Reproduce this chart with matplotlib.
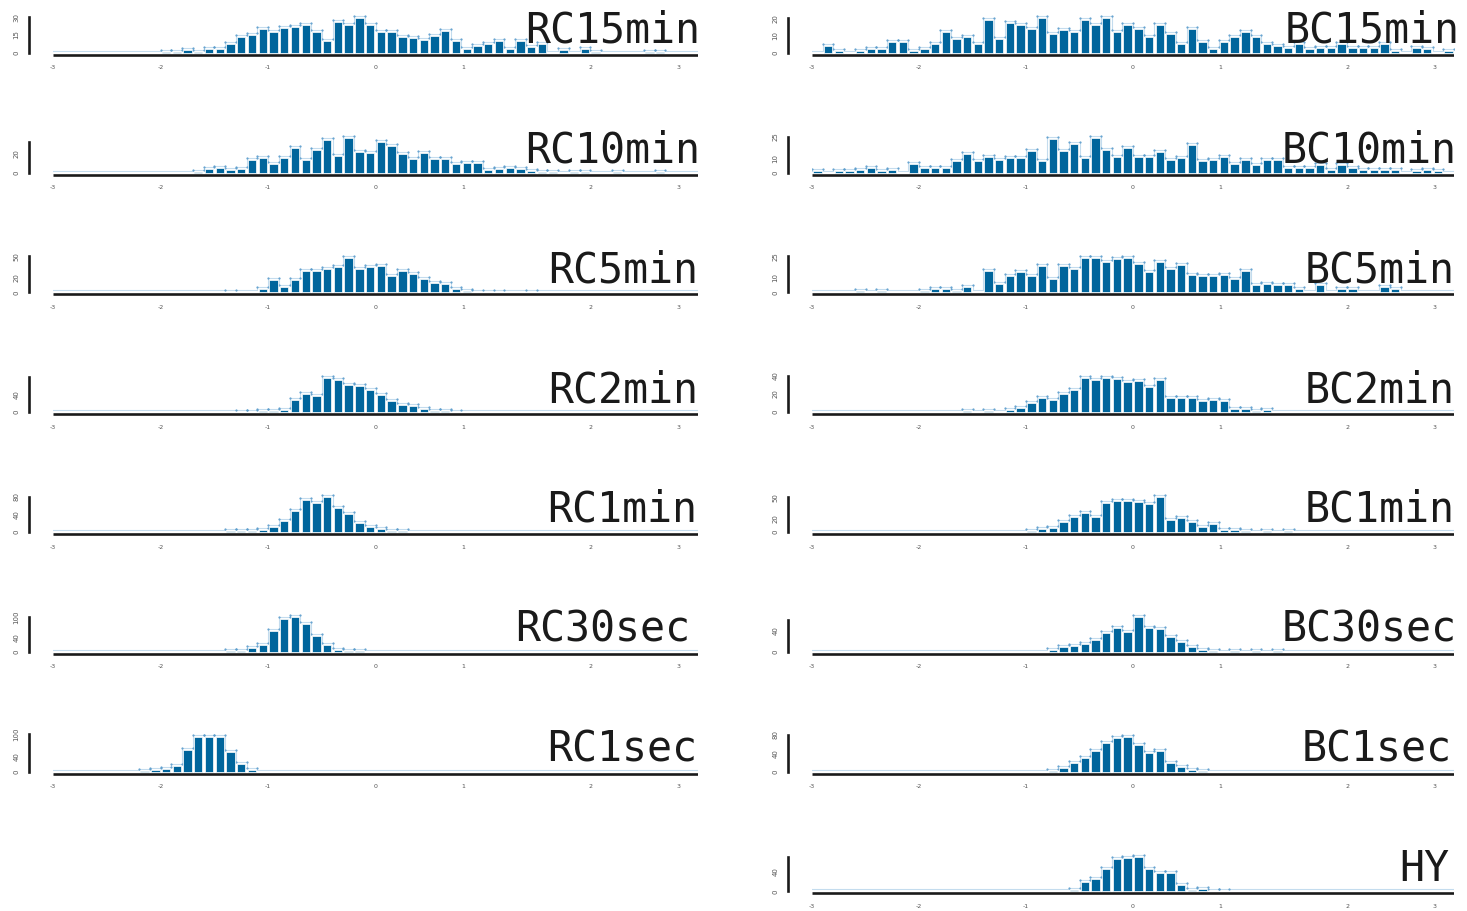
import matplotlib.pyplot as plt
import matplotlib.transforms as mtransforms
import numpy as np

# histogram bins: -3 .. 3, width 0.1
edges = np.round(np.linspace(-3, 3, 61), 2)

def expand(d):
    c = np.zeros(60)
    for k, v in d.items():
        c[k] = v
    return c

rc15 = [0]*10 + [1, 1, 2, 1, 3, 3, 7, 13, 15, 20, 17, 21, 22, 23, 17, 10, 26, 23, 29, 23,
                 17, 17, 13, 12, 11, 14, 18, 10, 3, 6, 7, 10, 3, 10, 5, 7, 0, 2, 0, 3,
                 1, 0, 0, 0, 0, 1, 1, 0, 0, 0]
bc15 = [0, 4, 1, 0, 1, 2, 2, 6, 6, 1, 2, 5, 12, 8, 9, 5, 19, 8, 17, 16,
        14, 20, 11, 13, 12, 19, 16, 20, 12, 16, 14, 9, 16, 11, 5, 14, 6, 2, 6, 9,
        12, 9, 5, 4, 3, 5, 2, 3, 3, 5, 3, 3, 3, 5, 1, 0, 3, 2, 0, 1]
rc10 = [0]*13 + [1, 4, 5, 3, 4, 13, 15, 9, 15, 26, 13, 23, 34, 17, 36, 21, 20, 32, 28,
                 19, 14, 20, 14, 14, 9, 10, 10, 3, 4, 5, 4, 2, 1, 1, 0, 1, 1, 0, 0,
                 1, 0, 0, 0, 1, 0, 0, 0]
bc10 = [1, 0, 1, 1, 2, 3, 1, 2, 0, 6, 3, 3, 3, 8, 13, 8, 11, 9, 10, 10,
        15, 8, 23, 15, 20, 10, 24, 16, 11, 17, 11, 11, 14, 9, 10, 19, 8, 9, 11, 6,
        9, 5, 9, 9, 3, 3, 3, 5, 2, 5, 3, 2, 2, 2, 2, 0, 1, 2, 1, 0]
rc5 = expand({16: 1, 19: 4, 20: 17, 21: 8, 22: 17, 23: 30, 24: 29, 25: 33, 26: 35, 27: 48,
              28: 33, 29: 35, 30: 36, 31: 23, 32: 30, 33: 26, 34: 19, 35: 13, 36: 11,
              37: 4, 38: 2, 39: 1, 41: 1, 44: 1})
bc5 = expand({4: 1, 6: 1, 10: 1, 11: 2, 12: 2, 13: 1, 14: 4, 16: 15, 17: 6, 18: 11, 19: 14,
              20: 11, 21: 18, 22: 9, 23: 18, 24: 16, 25: 24, 26: 24, 27: 21, 28: 23, 29: 24,
              30: 20, 31: 14, 32: 21, 33: 16, 34: 19, 35: 12, 36: 11, 37: 11, 38: 12,
              39: 9, 40: 15, 41: 5, 42: 6, 43: 5, 44: 5, 45: 2, 47: 5, 49: 2, 50: 2,
              53: 4, 54: 2})
rc2 = expand({17: 1, 18: 1, 19: 2, 20: 2, 21: 4, 22: 27, 23: 42, 24: 36, 25: 78, 26: 72,
              27: 61, 28: 59, 29: 50, 30: 38, 31: 25, 32: 17, 33: 13, 34: 6, 35: 2,
              36: 2, 37: 1})
bc2 = expand({14: 1, 16: 1, 18: 2, 19: 4, 20: 10, 21: 16, 22: 13, 23: 20, 24: 24, 25: 38,
              26: 35, 27: 38, 28: 37, 29: 33, 30: 34, 31: 28, 32: 35, 33: 15, 34: 16,
              35: 16, 36: 12, 37: 13, 38: 12, 39: 3, 40: 3, 41: 1, 42: 2})
rc1 = expand({16: 1, 17: 1, 18: 3, 19: 5, 20: 12, 21: 25, 22: 48, 23: 72, 24: 66, 25: 78,
              26: 55, 27: 40, 28: 20, 29: 12, 30: 6, 31: 3, 32: 1})
bc1 = expand({20: 2, 21: 4, 22: 5, 23: 14, 24: 22, 25: 28, 26: 22, 27: 42, 28: 45, 29: 45,
              30: 44, 31: 40, 32: 50, 33: 17, 34: 20, 35: 15, 36: 7, 37: 12, 38: 3,
              39: 3, 40: 1, 42: 1, 44: 1})
rc30s = expand({16: 1, 17: 3, 18: 10, 19: 18, 20: 60, 21: 95, 22: 100, 23: 80, 24: 45,
                25: 20, 26: 5, 27: 2, 28: 1})
bc30s = expand({22: 3, 23: 8, 24: 10, 25: 15, 26: 22, 27: 35, 28: 45, 29: 38, 30: 65,
                31: 45, 32: 42, 33: 28, 34: 18, 35: 8, 36: 4, 37: 1, 39: 1, 41: 1, 43: 1})
rc1s = expand({8: 1, 9: 3, 10: 6, 11: 16, 12: 58, 13: 92, 14: 92, 15: 92, 16: 52, 17: 20,
               18: 3})
bc1s = expand({22: 2, 23: 8, 24: 18, 25: 30, 26: 45, 27: 62, 28: 72, 29: 75, 30: 58,
               31: 40, 32: 45, 33: 18, 34: 10, 35: 3, 36: 1})
hy = expand({24: 3, 25: 18, 26: 25, 27: 45, 28: 65, 29: 68, 30: 70, 31: 45, 32: 38,
             33: 38, 34: 12, 35: 2, 36: 4, 37: 1, 38: 1})

# (label, counts, column, row, y ticks, y tick labels, label right edge px)
panels = [
    ("RC15min", rc15, 0, 0, [0, 15, 30], ["0", "15", "30"], 700),
    ("RC10min", rc10, 0, 1, [0, 20, 32], ["0", "20", ""], 700),
    ("RC5min", rc5, 0, 2, [0, 20, 50], ["0", "20", "50"], 698),
    ("RC2min", rc2, 0, 3, [0, 40, 80], ["0", "40", ""], 698),
    ("RC1min", rc1, 0, 4, [0, 40, 80], ["0", "40", "80"], 697),
    ("RC30sec", rc30s, 0, 5, [0, 40, 100], ["0", "40", "100"], 690),
    ("RC1sec", rc1s, 0, 6, [0, 40, 100], ["0", "40", "100"], 697),
    ("BC15min", bc15, 1, 0, [0, 10, 20], ["0", "10", "20"], 1460),
    ("BC10min", bc10, 1, 1, [0, 10, 25], ["0", "10", "25"], 1457),
    ("BC5min", bc5, 1, 2, [0, 10, 25], ["0", "10", "25"], 1455),
    ("BC2min", bc2, 1, 3, [0, 20, 40], ["0", "20", "40"], 1455),
    ("BC1min", bc1, 1, 4, [0, 20, 50], ["0", "20", "50"], 1455),
    ("BC30sec", bc30s, 1, 5, [0, 40, 60], ["0", "40", ""], 1457),
    ("BC1sec", bc1s, 1, 6, [0, 40, 80], ["0", "40", "80"], 1452),
    ("HY", hy, 1, 7, [0, 40, 70], ["0", "40", ""], 1449),
]

xtick_pos = [-3, -2, -1, 0, 0.82, 2, 2.82]
xtick_lab = ["-3", "-2", "-1", "0", "1", "2", "3"]

W, H = 1467, 911
fig = plt.figure(figsize=(W / 100, H / 100), dpi=100)

col_x = [(53.3, 697.7), (812.0, 1454.0)]
bar_color = "#00659c"
centers = edges[:-1] + 0.05

for name, counts, col, row, yt, ytl, lab_x in panels:
    counts = np.asarray(counts, dtype=float)
    zero = 52.7 + 119.8 * row          # pixel row of count 0
    ppc = 34.5 / counts.max()          # pixels per count
    x0, x1 = col_x[col]
    ax = fig.add_axes([x0 / W, 1 - (zero + 5) / H, (x1 - x0) / W, 47 / H])
    ax.set_xlim(-3, 3)
    ax.set_ylim(-5 / ppc, 42 / ppc)

    # light step outline, a little above the bars
    up = mtransforms.offset_copy(ax.transData, fig=fig, x=0, y=2.0, units="dots")
    sx = np.repeat(edges, 2)
    sy = np.concatenate([[0], np.repeat(counts, 2), [0]])
    ax.plot(sx, sy, color="#c4dcee", lw=0.8, transform=up, zorder=1)
    nz = counts > 0
    ax.plot(np.concatenate([edges[:-1][nz], edges[1:][nz]]),
            np.concatenate([counts[nz], counts[nz]]),
            ls="none", marker=".", ms=1.1, color="#5a9ccc", transform=up, zorder=1)

    ax.bar(centers[nz], counts[nz], width=0.078, color=bar_color,
           edgecolor="white", linewidth=0.5, zorder=2)

    ax.plot([-3, 3], [-2 / ppc, -2 / ppc], color="#1a1a1a", lw=1.9,
            solid_capstyle="butt", zorder=3)

    for s in ["top", "right", "bottom"]:
        ax.spines[s].set_visible(False)
    ax.spines["left"].set_position(("outward", 17.3))
    ax.spines["left"].set_bounds(0, yt[-1])
    ax.spines["left"].set_linewidth(1.9)
    ax.spines["left"].set_color("#1a1a1a")
    ax.set_yticks(yt, ytl)
    ax.tick_params(axis="y", length=0, pad=7, labelsize=5, labelrotation=90,
                   labelcolor="#555555")
    ax.set_xticks(xtick_pos, xtick_lab)
    ax.tick_params(axis="x", length=0, pad=5.5, labelsize=4.5, labelcolor="#555555")
    for t in ax.get_yticklabels():
        t.set_va("center")

    fig.text(lab_x / W, 1 - (zero - 10) / H, name, ha="right",
             va="baseline", fontsize=30, family="DejaVu Sans Mono", color="#1a1a1a")

fig.savefig("out.png", dpi=100)
